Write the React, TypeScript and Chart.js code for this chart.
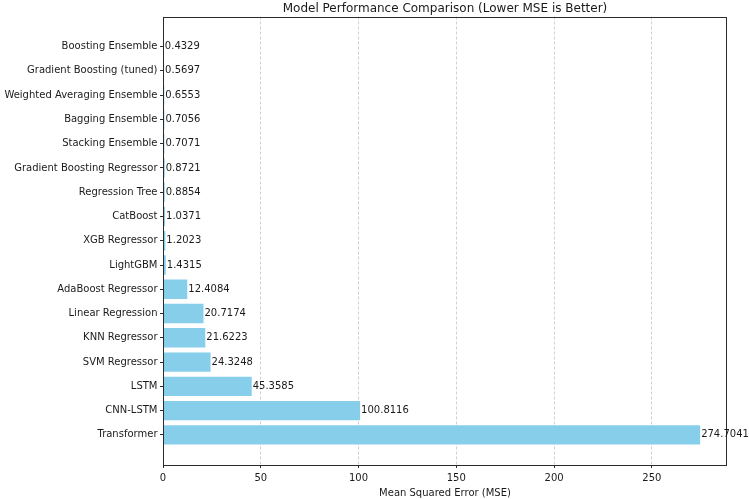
import React, { useEffect, useRef } from 'react';
import { Chart, registerables } from 'chart.js';

Chart.register(...registerables);

// Models listed top to bottom, with their mean squared error
const models = [
  'Boosting Ensemble',
  'Gradient Boosting (tuned)',
  'Weighted Averaging Ensemble',
  'Bagging Ensemble',
  'Stacking Ensemble',
  'Gradient Boosting Regressor',
  'Regression Tree',
  'CatBoost',
  'XGB Regressor',
  'LightGBM',
  'AdaBoost Regressor',
  'Linear Regression',
  'KNN Regressor',
  'SVM Regressor',
  'LSTM',
  'CNN-LSTM',
  'Transformer',
];
const mse = [
  0.4329, 0.5697, 0.6553, 0.7056, 0.7071, 0.8721, 0.8854, 1.0371, 1.2023,
  1.4315, 12.4084, 20.7174, 21.6223, 24.3248, 45.3585, 100.8116, 274.7041,
];
const xTicks = [0, 50, 100, 150, 200, 250];

const titleText = 'Model Performance Comparison (Lower MSE is Better)';
const xAxisTitle = 'Mean Squared Error (MSE)';

const FONT = '"DejaVu Sans", sans-serif';
const TEXT = '#1a1a1a';

// axis limits with a 5% margin, like matplotlib's autoscaling
const xMax = Math.max(...mse) * 1.05;
const barFrac = 0.8;
const yMargin = (models.length - 1 + barFrac) * 0.05;
const yMin = -barFrac / 2 - yMargin;
const yMax = models.length - 1 + barFrac / 2 + yMargin;

const decorations = {
  id: 'decorations',
  afterDatasetsDraw(chart: any) {
    const { ctx, chartArea: a, scales } = chart;
    const x = scales.x;
    const y = scales.y;
    ctx.save();

    // axes frame
    ctx.strokeStyle = '#2b2b2b';
    ctx.lineWidth = 1;
    ctx.strokeRect(
      Math.round(a.left) + 0.5,
      Math.round(a.top) + 0.5,
      Math.round(a.right - a.left) - 1,
      Math.round(a.bottom - a.top) - 1
    );

    // value labels at the end of each bar
    ctx.fillStyle = TEXT;
    ctx.font = `10px ${FONT}`;
    ctx.textAlign = 'left';
    ctx.textBaseline = 'middle';
    mse.forEach((v, i) => {
      ctx.fillText(v.toFixed(4), x.getPixelForValue(v) + 1, y.getPixelForValue(i));
    });

    // title
    ctx.font = `12px ${FONT}`;
    ctx.textAlign = 'center';
    ctx.textBaseline = 'alphabetic';
    ctx.fillText(titleText, (a.left + a.right) / 2, 12);

    // x-axis title
    ctx.font = `10px ${FONT}`;
    ctx.fillText(xAxisTitle, (a.left + a.right) / 2, 495.5);

    ctx.restore();
  },
};

export default function App() {
  const canvasRef = useRef<HTMLCanvasElement | null>(null);

  useEffect(() => {
    const canvas = canvasRef.current;
    if (!canvas) return;
    Chart.defaults.font.family = FONT;
    Chart.defaults.font.size = 10;
    Chart.defaults.color = TEXT;

    const chart = new Chart(canvas, {
      type: 'bar',
      data: {
        datasets: [
          {
            data: mse.map((v, i) => ({ x: v, y: i })),
            backgroundColor: '#87CEEB',
            borderWidth: 0,
            categoryPercentage: 1,
            barPercentage: barFrac,
          },
        ],
      },
      options: {
        indexAxis: 'y',
        animation: false,
        responsive: false,
        maintainAspectRatio: false,
        layout: { padding: { top: 16.5, right: 22, left: 0, bottom: 0 } },
        plugins: {
          legend: { display: false },
          tooltip: { enabled: false },
          title: { display: false },
        },
        scales: {
          x: {
            type: 'linear',
            position: 'bottom',
            min: 0,
            max: xMax,
            afterBuildTicks: (scale: any) => {
              scale.ticks = xTicks.map((v) => ({ value: v }));
            },
            afterFit: (scale: any) => {
              scale.height = 34;
            },
            ticks: {
              padding: 4,
              maxRotation: 0,
              autoSkip: false,
              callback: (v: any) => String(v),
            },
            grid: {
              display: true,
              drawOnChartArea: true,
              drawTicks: true,
              color: 'rgba(176,176,176,0.6)',
              lineWidth: 1,
              tickColor: '#2b2b2b',
              tickBorderDash: [],
              tickLength: 3,
              tickWidth: 1,
            },
            border: { display: false, dash: [3, 2] },
          },
          y: {
            type: 'linear',
            position: 'left',
            reverse: true,
            offset: false,
            min: yMin,
            max: yMax,
            afterBuildTicks: (scale: any) => {
              scale.ticks = models.map((_, i) => ({ value: i }));
            },
            afterFit: (scale: any) => {
              scale.width = 163;
            },
            ticks: {
              padding: 2.5,
              autoSkip: false,
              callback: (v: any) => models[v as number] ?? '',
            },
            grid: {
              display: true,
              offset: false,
              drawOnChartArea: false,
              drawTicks: true,
              tickColor: '#2b2b2b',
              tickLength: 3,
              tickWidth: 1,
            },
            border: { display: false },
          },
        },
      },
      plugins: [decorations],
    });

    return () => chart.destroy();
  }, []);

  return (
    <div style={{ position: 'fixed', left: 0, top: 0, width: 749, height: 499, background: '#fff' }}>
      <canvas ref={canvasRef} width={749} height={499} style={{ display: 'block' }} />
    </div>
  );
}
